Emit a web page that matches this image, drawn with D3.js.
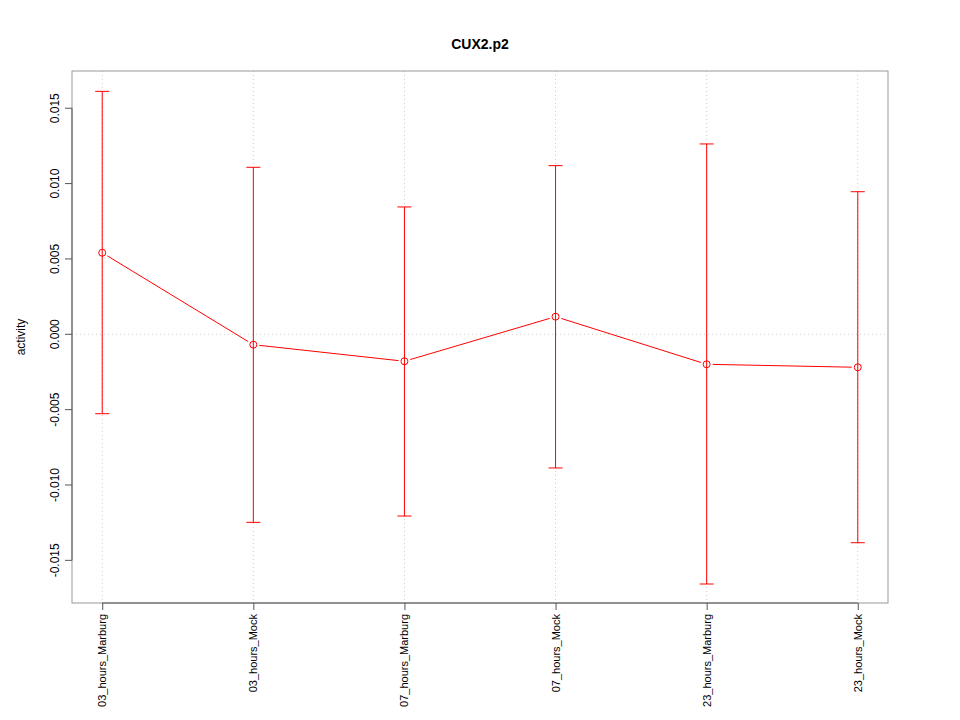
<!DOCTYPE html>
<html><head><meta charset="utf-8">
<script src="https://cdn.jsdelivr.net/npm/d3@7"></script>
<style>body{margin:0;background:#fff}svg{display:block}text{font-family:"Liberation Sans",Arial,sans-serif}</style>
</head><body>
<svg id="c" width="960" height="720"></svg>
<script>
const categories = ["03_hours_Marburg","03_hours_Mock","07_hours_Marburg","07_hours_Mock","23_hours_Marburg","23_hours_Mock"];
const activity = [0.00541, -0.00069, -0.00179, 0.00117, -0.00199, -0.00219];
const upper = [0.01612, 0.01108, 0.00845, 0.01119, 0.01263, 0.00946];
const lower = [-0.00527, -0.01248, -0.01206, -0.00887, -0.01657, -0.01383];
const yTicks = [-0.015, -0.010, -0.005, 0.000, 0.005, 0.010, 0.015];
const title = "CUX2.p2";
const yLabel = "activity";

const svg = d3.select("#c");
const L = 72, R = 888, T = 71, B = 603;
const x = d3.scaleLinear().domain([0.8, 6.2]).range([L, R]);
const y = d3.scaleLinear().domain([-0.01783, 0.01747]).range([B, T]);
const red = "#ff0000";
const fmt = d => d3.format(".3f")(d).replace("\u2212","-");

// grid
svg.append("g").selectAll("line").data(categories).join("line")
  .attr("x1",(d,i)=>x(i+1)).attr("x2",(d,i)=>x(i+1)).attr("y1",T).attr("y2",B)
  .attr("stroke","#cccccc").attr("stroke-dasharray","1,3");
svg.append("line").attr("x1",L).attr("x2",R).attr("y1",y(0)).attr("y2",y(0))
  .attr("stroke","#cccccc").attr("stroke-dasharray","1,3");

// box
svg.append("rect").attr("x",L).attr("y",T).attr("width",R-L).attr("height",B-T)
  .attr("fill","none").attr("stroke","#999999");

// y axis
const ya = d3.axisLeft(y).tickValues(yTicks).tickSize(7).tickFormat(fmt);
const yg = svg.append("g").attr("transform",`translate(${L},0)`).call(ya);
yg.select(".domain").attr("d",`M0,${y(0.015)}V${y(-0.015)}`).attr("stroke","#555");
yg.selectAll(".tick").attr("transform",null);
yg.selectAll(".tick line").attr("stroke","#555").attr("y1",d=>y(d)).attr("y2",d=>y(d));
yg.selectAll(".tick text")
  .each(function(d){ d3.select(this).attr("x",-17).attr("y",y(d)).attr("transform",`rotate(-90,-17,${y(d)})`); })
  .attr("dy","0.35em").attr("text-anchor","middle").attr("font-size",12).attr("fill","#000");

// x axis
const xa = d3.axisBottom(x).tickValues(d3.range(1,7)).tickSize(7).tickFormat(()=> "");
const xg = svg.append("g").attr("transform",`translate(0,${B})`).call(xa);
xg.select(".domain").attr("d",`M${x(1)},0H${x(6)}`).attr("stroke","#555");
xg.selectAll(".tick line").attr("stroke","#555");
svg.append("g").selectAll("text").data(categories).join("text")
  .attr("transform",(d,i)=>`translate(${x(i+1)+4},${B+11}) rotate(-90)`)
  .attr("text-anchor","end").attr("font-size",11).text(d=>d);

// title and label
svg.append("text").attr("x",(L+R)/2).attr("y",49).attr("text-anchor","middle")
  .attr("font-weight","bold").attr("font-size",14).text(title);
svg.append("text").attr("transform",`translate(25,${(T+B)/2}) rotate(-90)`)
  .attr("text-anchor","middle").attr("font-size",12).text(yLabel);

// error bars
const eb = svg.append("g").attr("stroke",red).attr("fill","none");
categories.forEach((c,i)=>{
  const cx = x(i+1);
  eb.append("line").attr("x1",cx).attr("x2",cx).attr("y1",y(upper[i])).attr("y2",y(lower[i]));
  eb.append("line").attr("x1",cx-7).attr("x2",cx+7).attr("y1",y(upper[i])).attr("y2",y(upper[i]));
  eb.append("line").attr("x1",cx-7).attr("x2",cx+7).attr("y1",y(lower[i])).attr("y2",y(lower[i]));
});

// line segments with gaps (type "b")
const gap = 6;
for (let i=0;i<activity.length-1;i++){
  const x1=x(i+1), y1=y(activity[i]), x2=x(i+2), y2=y(activity[i+1]);
  const dx=x2-x1, dy=y2-y1, len=Math.hypot(dx,dy), ux=dx/len, uy=dy/len;
  svg.append("line").attr("x1",x1+ux*gap).attr("y1",y1+uy*gap)
    .attr("x2",x2-ux*gap).attr("y2",y2-uy*gap).attr("stroke",red);
}
svg.append("g").selectAll("circle").data(activity).join("circle")
  .attr("cx",(d,i)=>x(i+1)).attr("cy",d=>y(d)).attr("r",3.5)
  .attr("fill","none").attr("stroke",red);
</script>
</body></html>
